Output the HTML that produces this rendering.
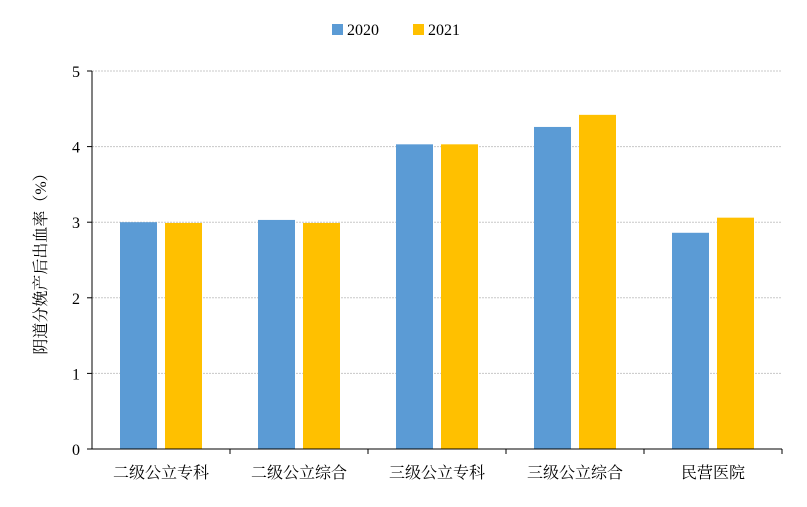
<!DOCTYPE html>
<html><head><meta charset="utf-8"><style>
body{margin:0;background:#fff;}
svg text{font-family:"Liberation Serif","Noto Serif CJK SC","Noto Sans CJK SC",serif;fill:#000;}
</style></head><body>
<svg id="chart" width="807" height="502" xmlns="http://www.w3.org/2000/svg">
<g id="legend">
<rect x="332" y="24" width="11" height="11" fill="#5b9bd5"/>
<text x="347" y="35" font-size="16">2020</text>
<rect x="413" y="24" width="11" height="11" fill="#ffc000"/>
<text x="428" y="35" font-size="16">2021</text>
</g>
<text transform="translate(46,260) rotate(-90)" text-anchor="middle" font-size="16">阴道分娩产后出血率（%）</text>
<g id="grid"></g><g id="bars"></g><g id="axes"></g>
</svg>
<script>
const categories=["二级公立专科","二级公立综合","三级公立专科","三级公立综合","民营医院"];
const values2020=[3.00,3.03,4.03,4.26,2.86];
const values2021=[2.99,2.99,4.03,4.42,3.06];
const yTicks=[0,1,2,3,4,5];
const NS="http://www.w3.org/2000/svg";
const x0=92,x1=782,yTop=71,yBot=449,yMax=5;
const y=v=>yBot-(v/yMax)*(yBot-yTop);
const bw=(x1-x0)/categories.length;
function mk(tag,attrs,parent,txt){const e=document.createElementNS(NS,tag);for(const k in attrs)e.setAttribute(k,attrs[k]);if(txt!==undefined)e.textContent=txt;parent.appendChild(e);return e;}
const grid=document.getElementById('grid'),bars=document.getElementById('bars'),axes=document.getElementById('axes');
yTicks.forEach(t=>{
  if(t>0){const g=mk('line',{x1:x0,x2:x1,y1:y(t),y2:y(t),stroke:'#c8c8c8','stroke-width':1,'stroke-dasharray':'2,1'},grid);
  
  }
  const tk=mk('line',{x1:x0-5,x2:x0,y1:y(t),y2:y(t),stroke:'#000'},axes);
  
  
  const lb=mk('text',{x:x0-12,y:y(t)+6,'text-anchor':'end','font-size':16},axes,String(t));
  
  
});
categories.forEach((c,i)=>{
  const cx=x0+bw*(i+0.5);
  const b1=mk('rect',{x:cx-41,y:y(values2020[i]),width:37,height:yBot-y(values2020[i]),fill:'#5b9bd5'},bars);
  
  
  const b2=mk('rect',{x:cx+4,y:y(values2021[i]),width:37,height:yBot-y(values2021[i]),fill:'#ffc000'},bars);
  
  
  const lb=mk('text',{x:cx,y:478,'text-anchor':'middle','font-size':16},axes,c);
  
  
  const tk=mk('line',{x1:x0+bw*(i+1),x2:x0+bw*(i+1),y1:yBot,y2:yBot+5,stroke:'#000'},axes);
  
  
});
const ya=mk('line',{x1:x0,x2:x0,y1:yTop,y2:yBot,stroke:'#000'},axes);


const xa=mk('line',{x1:x0,x2:x1,y1:yBot,y2:yBot,stroke:'#000'},axes);


</script>
</body></html>
